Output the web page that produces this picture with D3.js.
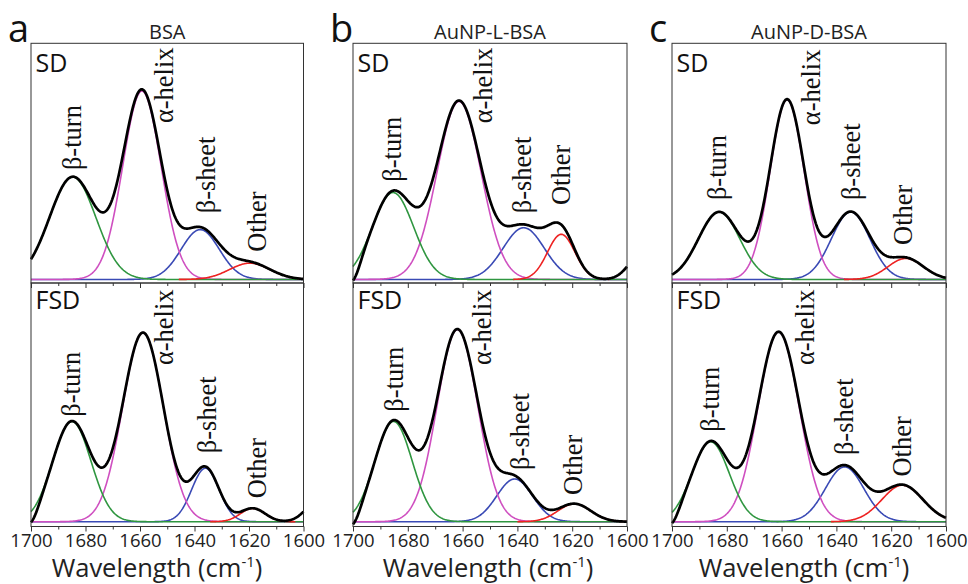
<!DOCTYPE html>
<html>
<head>
<meta charset="utf-8">
<script src="https://cdn.jsdelivr.net/npm/d3@7"></script>
<style>
  html, body { margin: 0; padding: 0; background: #ffffff; }
  svg { display: block; }
</style>
</head>
<body>
<script>
// ---------------- data ----------------
const panelLetters = ["a", "b", "c"];
const panelTitles = ["BSA", "AuNP-L-BSA", "AuNP-D-BSA"];
const rowNames = ["SD", "FSD"];
const componentNames = ["β-turn", "α-helix", "β-sheet", "Other"];
const xTickLabels = [1700, 1680, 1660, 1640, 1620, 1600];
const xMinorTicks = [1690, 1670, 1650, 1630, 1610];
const axisTitle = "Wavelength (cm";

// fitted band parameters, subplot order: aSD, aFSD, bSD, bFSD, cSD, cFSD
// component order: β-turn, α-helix, β-sheet, Other
const peakCenters = [
  [1684.7, 1659.3, 1637.9, 1619.7],
  [1685.0, 1658.9, 1636.0, 1618.6],
  [1685.4, 1661.3, 1637.7, 1624.0],
  [1685.2, 1661.9, 1641.0, 1619.2],
  [1682.8, 1658.0, 1634.8, 1614.7],
  [1685.9, 1661.1, 1637.0, 1615.9]
];
const peakHeights = [
  [43.4, 79.8, 21.1, 6.9],
  [42.0, 79.2, 22.4, 5.6],
  [36.8, 75.4, 21.9, 19.1],
  [42.0, 80.5, 17.9, 7.5],
  [28.6, 76.1, 28.6, 8.9],
  [33.5, 79.5, 23.0, 15.3]
];
const peakWidths = [
  [8.5, 7.0, 7.0, 7.5],
  [7.0, 7.5, 5.0, 4.5],
  [7.5, 8.0, 7.5, 5.0],
  [6.8, 7.4, 6.5, 6.0],
  [7.5, 6.2, 7.0, 6.5],
  [6.8, 7.5, 7.0, 7.5]
];
// extra terms present only in the measured (black) spectrum: [center, height, width]
const spectrumEdgeTerms = [
  [],
  [[1595, 8.0, 4.4], [1700, -4.5, 2.5]],
  [[1595, 10.0, 4.5], [1700, -6.0, 2.5]],
  [[1700, -5.0, 2.5]],
  [],
  [[1700, -4.5, 2.5]]
];
// band label anchors (wavenumber, height of text start)
const labelWavenumbers = [
  [1684.4, 1650.7, 1635.4, 1616.7],
  [1685.0, 1650.7, 1635.1, 1616.7],
  [1685.4, 1652.0, 1638.0, 1623.6],
  [1684.5, 1652.4, 1638.5, 1619.5],
  [1683.1, 1648.9, 1634.2, 1615.3],
  [1685.6, 1651.0, 1637.0, 1615.6]
];
const labelHeights = [
  [46.3, 66.2, 28.0, 11.7],
  [44.0, 65.6, 28.7, 9.8],
  [41.4, 66.1, 28.0, 31.5],
  [46.1, 65.6, 21.7, 11.2],
  [33.6, 65.3, 33.6, 14.6],
  [37.7, 65.6, 27.9, 18.9]
];

// ---------------- layout / style ----------------
const W = 968, H = 584;
const panelLeft = [31, 353, 672];
const panelRight = [303.5, 627, 946];
const rowTop = [43.3, 283];
const rowBottom = [283, 526.5];
const rowDomain = [[-1.5, 100], [-2, 100]];
const componentColors = ["#2f9640", "#cf4fc0", "#3a4ab5", "#ee2222"];
const drawOrder = [2, 1, 0, 3];
const sansFont = "'Open Sans', 'Noto Sans', sans-serif";
const serifFont = "'Liberation Serif', 'DejaVu Serif', serif";

const svg = d3.select("body").append("svg")
  .attr("width", W).attr("height", H)
  .attr("viewBox", `0 0 ${W} ${H}`);
svg.append("rect").attr("width", W).attr("height", H).attr("fill", "#fff");

const gauss = (w, c, h, s) => h * Math.exp(-((w - c) * (w - c)) / (2 * s * s));
const grid = d3.range(1700, 1599.99, -0.25);

for (let col = 0; col < 3; col++) {
  const x = d3.scaleLinear().domain([1700, 1600]).range([panelLeft[col], panelRight[col]]);
  const pg = svg.append("g");

  // panel letter and title
  pg.append("text")
    .attr("x", panelLeft[col] - 23).attr("y", 41.5)
    .attr("font-family", sansFont).attr("font-size", 38).attr("fill", "#111")
    .text(panelLetters[col]);
  pg.append("text")
    .attr("x", (panelLeft[col] + panelRight[col]) / 2).attr("y", 39)
    .attr("text-anchor", "middle")
    .attr("font-family", sansFont).attr("font-size", 20).attr("fill", "#222")
    .text(panelTitles[col]);

  for (let row = 0; row < 2; row++) {
    const idx = col * 2 + row;
    const y = d3.scaleLinear().domain(rowDomain[row]).range([rowBottom[row], rowTop[row]]);
    const g = pg.append("g");
    const line = d3.line().x(d => x(d[0])).y(d => y(d[1]));

    const cs = peakCenters[idx], hs = peakHeights[idx], ss = peakWidths[idx];

    // component bands
    drawOrder.forEach(k => {
      let pts = grid;
      if (k === 3) {
        pts = grid.filter(w => Math.abs(w - cs[k]) <= 3.5 * ss[k]);
      }
      g.append("path")
        .attr("d", line(pts.map(w => [w, gauss(w, cs[k], hs[k], ss[k])])))
        .attr("fill", "none")
        .attr("stroke", componentColors[k])
        .attr("stroke-width", 1.6);
    });

    // measured spectrum
    const spec = grid.map(w => {
      let v = 0;
      for (let k = 0; k < 4; k++) v += gauss(w, cs[k], hs[k], ss[k]);
      spectrumEdgeTerms[idx].forEach(t => { v += gauss(w, t[0], t[1], t[2]); });
      return [w, v];
    });
    g.append("path")
      .attr("d", line(spec))
      .attr("fill", "none")
      .attr("stroke", "#000")
      .attr("stroke-width", 2.7)
      .attr("stroke-linejoin", "round");

    // frame
    g.append("rect")
      .attr("x", panelLeft[col]).attr("y", rowTop[row])
      .attr("width", panelRight[col] - panelLeft[col])
      .attr("height", rowBottom[row] - rowTop[row])
      .attr("fill", "none").attr("stroke", "#333").attr("stroke-width", 1);

    // ticks
    const axMinor = d3.axisBottom(x).tickValues(xMinorTicks).tickSize(3).tickFormat("");
    const axMajor = d3.axisBottom(x).tickValues(xTickLabels).tickSize(5).tickPadding(2.5)
      .tickFormat(d3.format("d"));
    const gMinor = g.append("g").attr("transform", `translate(0,${rowBottom[row]})`).call(axMinor);
    const gMajor = g.append("g").attr("transform", `translate(0,${rowBottom[row]})`).call(axMajor);
    gMinor.selectAll("text").remove();
    if (row === 0) gMajor.selectAll("text").remove();
    [gMinor, gMajor].forEach(a => {
      a.select(".domain").remove();
      a.selectAll("line").attr("stroke", "#333");
      a.selectAll("text").attr("font-family", sansFont).attr("font-size", 18.5).attr("fill", "#222");
    });

    // row label
    g.append("text")
      .attr("x", panelLeft[col] + 4.5).attr("y", rowTop[row] + (row === 0 ? 28.4 : 26.3))
      .attr("font-family", sansFont).attr("font-size", 25).attr("fill", "#111")
      .text(rowNames[row]);

    // band labels
    componentNames.forEach((name, k) => {
      g.append("text")
        .attr("transform", `translate(${x(labelWavenumbers[idx][k])},${y(labelHeights[idx][k])}) rotate(-90)`)
        .attr("dy", "0.3em")
        .attr("text-anchor", "start")
        .attr("font-family", serifFont).attr("font-size", 26.5).attr("fill", "#111")
        .text(name);
    });
  }
}

// axis titles
const titleCenters = [157, 488, 804];
titleCenters.forEach(cx => {
  const t = svg.append("text")
    .attr("x", cx).attr("y", 577)
    .attr("text-anchor", "middle")
    .attr("font-family", sansFont).attr("font-size", 25.5).attr("fill", "#222");
  t.append("tspan").text(axisTitle);
  t.append("tspan").attr("font-size", 15).attr("dy", -10).text("-1");
  t.append("tspan").attr("dy", 10).text(")");
});
</script>
</body>
</html>
